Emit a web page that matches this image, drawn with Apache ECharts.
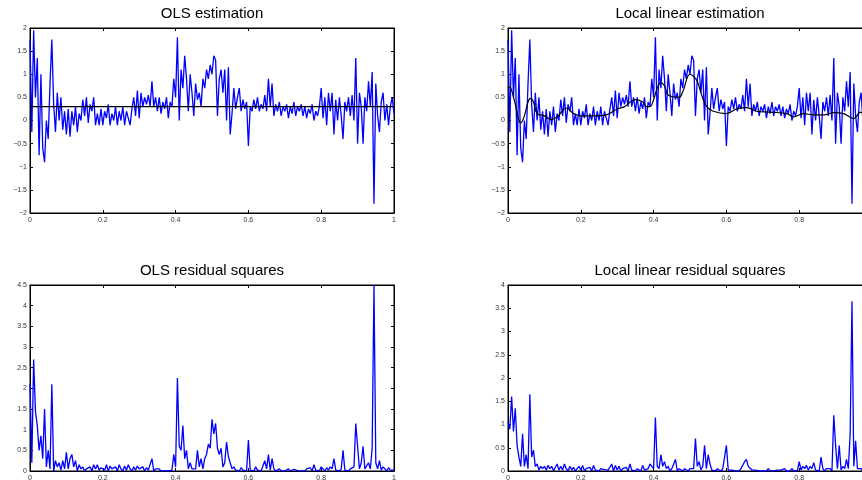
<!DOCTYPE html>
<html lang="en">
<head>
<meta charset="UTF-8">
<title>OLS vs local linear estimation</title>
<style>
  html, body { margin: 0; padding: 0; background: #fff; }
  #main { width: 862px; height: 480px; }
</style>
<script src="https://cdn.jsdelivr.net/npm/echarts@6/dist/echarts.min.js"></script>
</head>
<body>
<div id="main"></div>
<script>
// observed series, sampled every 0.005 on [0, 1]
var obs = [
  1.75, -0.25, 1.95, 0.5, 1.35, -0.75, 1.0, -0.6, -0.9, 0.0,
  -0.4, 0.8, 1.75, 0.35, -0.25, 0.6, 0.0, 0.5, -0.2, 0.2,
  -0.3, 0.25, -0.35, 0.2, -0.1, 0.3, -0.25, 0.15, 0.0, 0.45,
  0.1, 0.5, -0.05, 0.35, 0.2, 0.5, -0.1, 0.15, -0.1, 0.25,
  -0.1, 0.2, 0.05, 0.35, -0.1, 0.15, 0.0, 0.3, -0.1, 0.2,
  0.0, 0.3, -0.1, 0.2, 0.05, -0.1, 0.25, 0.5, 0.1, 0.65,
  0.05, 0.6, 0.3, 0.5, 0.35, 0.55, 0.3, 0.85, 0.3, 0.5,
  0.2, 0.5, 0.15, 0.4, 0.25, 0.5, 0.05, 0.4, 0.3, 0.9,
  0.5, 1.8, 0.0, 1.1, 0.7, 1.4, 0.9, 0.2, 1.0, 0.6,
  0.1, 0.8, 0.45, 0.6, 0.3, 0.9, 0.7, 1.1, 0.9, 1.2,
  1.0, 1.4, 1.3, 0.1, 0.9, 1.1, 0.6, 1.1, 0.0, 1.15,
  -0.3, 0.15, 0.7, 0.25, 0.5, 0.7, 0.2, 0.45, 0.25, 0.4,
  -0.55, 0.3, 0.2, 0.45, 0.25, 0.5, 0.2, 0.35, 0.25, 0.55,
  0.2, 0.9, 0.3, 0.8, 0.1, 0.35, 0.2, 0.4, 0.1, 0.3,
  0.2, 0.35, 0.05, 0.3, 0.15, 0.4, 0.1, 0.3, 0.2, 0.35,
  0.1, 0.3, 0.05, 0.25, 0.15, 0.35, 0.0, 0.2, 0.1, 0.3,
  0.7, 0.05, 0.5, -0.1, 0.6, 0.2, 0.6, -0.3, 0.45, 0.0,
  0.5, 0.1, -0.4, 0.4, 0.2, 0.5, 0.1, 0.55, 0.0, 1.35,
  -0.5, 0.6, 0.3, -0.5, 0.5, 0.2, 0.85, 0.3, 1.05, -1.8,
  0.8, 0.1, -0.25, 0.4, 0.6, 0.0, 0.35, -0.1, 0.3, 0.5,
  0.15
];

// OLS fit is a flat line
var olsLevel = 0.3;

// local linear fit (black curve)
var llX = [0, 0.005, 0.01, 0.02, 0.03, 0.035, 0.045, 0.055, 0.062, 0.07,
  0.08, 0.1, 0.12, 0.14, 0.16, 0.18, 0.2, 0.24, 0.27, 0.3,
  0.32, 0.35, 0.37, 0.38, 0.39, 0.4, 0.41, 0.42, 0.43, 0.44,
  0.47, 0.48, 0.5, 0.51, 0.52, 0.532, 0.546, 0.564, 0.6, 0.628,
  0.656, 0.683, 0.72, 0.766, 0.784, 0.812, 0.84, 0.867, 0.895, 0.922,
  0.95, 0.968, 0.985, 1];
var llFit = [0.7, 0.72, 0.65, 0.35, 0.0, -0.05, 0.1, 0.4, 0.48, 0.4,
  0.15, 0.1, 0.02, 0.12, 0.27, 0.15, 0.1, 0.1, 0.12, 0.25,
  0.3, 0.45, 0.4, 0.3, 0.3, 0.45, 0.7, 0.82, 0.75, 0.55,
  0.5, 0.62, 1.0, 0.95, 0.85, 0.55, 0.3, 0.2, 0.15, 0.25,
  0.28, 0.2, 0.18, 0.15, 0.08, 0.15, 0.12, 0.12, 0.17, 0.15,
  0.04, 0.18, 0.1, -0.05];

// residual squares, same 0.005 sampling
var olsRes2 = [
  2.1, 0.2, 2.7, 1.45, 1.1, 0.5, 0.85, 0.3, 1.5, 0.1,
  0.5, 0.05, 2.1, 0.0, 0.25, 0.1, 0.2, 0.02, 0.25, 0.05,
  0.45, 0.05, 0.3, 0.4, 0.1, 0.25, 0.0, 0.15, 0.05, 0.1,
  0.0, 0.05, 0.02, 0.1, 0.0, 0.15, 0.05, 0.15, 0.02, 0.08,
  0.1, 0.02, 0.15, 0.0, 0.12, 0.05, 0.02, 0.1, 0.0, 0.15,
  0.05, 0.0, 0.12, 0.02, 0.15, 0.05, 0.0, 0.1, 0.02, 0.12,
  0.05, 0.02, 0.1, 0.0, 0.08, 0.02, 0.05, 0.3, 0.0, 0.05,
  0.02, 0.05, 0.0, 0.03, 0.01, 0.05, 0.0, 0.03, 0.02, 0.4,
  0.1, 2.25, 0.6, 0.5, 1.1, 0.3, 0.5, 0.05, 0.2, 0.05,
  0.02, 0.05, 0.5, 0.1, 0.3, 0.05, 0.3, 0.4, 0.65, 0.55,
  1.25, 0.9, 1.15, 0.55, 0.4, 0.55, 0.1, 0.2, 0.7, 0.35,
  0.2, 0.05, 0.1, 0.02, 0.05, 0.0, 0.08, 0.02, 0.05, 0.0,
  0.75, 0.02, 0.05, 0.0, 0.1, 0.02, 0.05, 0.0, 0.02, 0.25,
  0.05, 0.4, 0.02, 0.3, 0.05, 0.0, 0.02, 0.05, 0.0, 0.02,
  0.0, 0.02, 0.05, 0.0, 0.02, 0.04, 0.0, 0.01, 0.05, 0.0,
  0.02, 0.0, 0.05, 0.01, 0.08, 0.0, 0.15, 0.02, 0.05, 0.0,
  0.1, 0.05, 0.0, 0.08, 0.02, 0.1, 0.05, 0.3, 0.02, 0.05,
  0.0, 0.05, 0.5, 0.02, 0.05, 0.0, 0.05, 0.02, 0.1, 1.15,
  0.6, 0.05, 0.2, 0.6, 0.05, 0.02, 0.2, 0.05, 0.55, 4.5,
  0.2, 0.05, 0.25, 0.02, 0.1, 0.05, 0.0, 0.08, 0.02, 0.05,
  0.02
];
var llRes2 = [
  1.05, 0.9, 1.6, 0.85, 1.35, 0.55, 0.3, 0.1, 0.8, 0.1,
  0.35, 0.05, 1.65, 0.3, 0.45, 0.1, 0.15, 0.02, 0.1, 0.05,
  0.1, 0.02, 0.12, 0.05, 0.1, 0.0, 0.08, 0.15, 0.02, 0.1,
  0.02, 0.15, 0.05, 0.0, 0.1, 0.02, 0.08, 0.0, 0.05, 0.1,
  0.02, 0.12, 0.0, 0.05, 0.02, 0.08, 0.0, 0.12, 0.02, 0.05,
  0.0, 0.05, 0.02, 0.03, 0.0, 0.02, 0.05, 0.15, 0.0, 0.12,
  0.02, 0.1, 0.0, 0.05, 0.02, 0.08, 0.0, 0.15, 0.02, 0.05,
  0.0, 0.05, 0.02, 0.0, 0.12, 0.02, 0.0, 0.05, 0.15, 0.1,
  0.05, 1.15, 0.1, 0.05, 0.35, 0.1, 0.2, 0.05, 0.1, 0.0,
  0.05, 0.02, 0.25, 0.0, 0.05, 0.02, 0.0, 0.05, 0.02, 0.0,
  0.05, 0.02, 0.05, 0.7, 0.1, 0.2, 0.02, 0.1, 0.55, 0.05,
  0.35, 0.15, 0.02, 0.05, 0.0, 0.05, 0.02, 0.0, 0.05, 0.02,
  0.55, 0.02, 0.0, 0.02, 0.01, 0.0, 0.02, 0.0, 0.05, 0.02,
  0.2, 0.25, 0.1, 0.1, 0.02, 0.0, 0.02, 0.05, 0.0, 0.02,
  0.0, 0.02, 0.0, 0.05, 0.0, 0.02, 0.0, 0.01, 0.02, 0.0,
  0.02, 0.0, 0.05, 0.0, 0.02, 0.0, 0.05, 0.0, 0.02, 0.01,
  0.2, 0.02, 0.1, 0.05, 0.12, 0.02, 0.1, 0.05, 0.18, 0.02,
  0.05, 0.0, 0.3, 0.05, 0.0, 0.05, 0.02, 0.05, 0.0, 1.2,
  0.55, 0.05, 0.55, 0.02, 0.1, 0.05, 0.25, 0.05, 0.8, 3.65,
  0.1, 0.65, 0.05, 0.02, 0.05, 0.0, 0.1, 0.02, 0.05, 0.0,
  0.02
];

var titles = ['OLS estimation', 'Local linear estimation', 'OLS residual squares', 'Local linear residual squares'];
var yRanges = [[-2, 2], [-2, 2], [0, 4.5], [0, 4]];

var step = 0.005;
function onGrid(ys) {
  return ys.map(function (v, i) { return [+(i * step).toFixed(3), v]; });
}

// plot boxes (right column runs past the window edge like the original)
var boxes = [
  { left: 30, right: 468, top: 28, bottom: 267, cx: 212, ty: 6 },
  { left: 508, right: -10, top: 28, bottom: 267, cx: 690, ty: 6 },
  { left: 30, right: 468, top: 285, bottom: 9, cx: 212, ty: 263 },
  { left: 508, right: -10, top: 285, bottom: 9, cx: 690, ty: 263 }
];

var fontFam = '"Liberation Sans", Arial, Helvetica, sans-serif';
var minus = function (v) { return String(v).replace('-', '\u2212'); };

var grids = [], xAxes = [], yAxes = [], titleList = [];
boxes.forEach(function (b, g) {
  grids.push({ left: b.left, right: b.right, top: b.top, bottom: b.bottom,
    outerBoundsMode: 'none', containLabel: false,
    show: true, borderColor: '#000', borderWidth: 1, backgroundColor: 'transparent' });
  titleList.push({ text: titles[g], left: b.cx, top: b.ty, textAlign: 'center', padding: 0,
    textStyle: { fontSize: 15, fontWeight: 'normal', color: '#000', fontFamily: fontFam } });
  ['bottom', 'top'].forEach(function (pos) {
    xAxes.push({
      type: 'value', gridIndex: g, position: pos, min: 0, max: 1, interval: 0.2,
      axisLine: { show: true, onZero: false, lineStyle: { color: '#000', width: 1 } },
      axisTick: { show: true, inside: true, length: 3, lineStyle: { color: '#000' } },
      axisLabel: { show: pos === 'bottom', fontSize: 7, color: '#333', margin: 4,
        fontFamily: fontFam, formatter: minus },
      splitLine: { show: false }
    });
  });
  ['left', 'right'].forEach(function (pos) {
    yAxes.push({
      type: 'value', gridIndex: g, position: pos, min: yRanges[g][0], max: yRanges[g][1], interval: 0.5,
      axisLine: { show: true, onZero: false, lineStyle: { color: '#000', width: 1 } },
      axisTick: { show: true, inside: true, length: 3, lineStyle: { color: '#000' } },
      axisLabel: { show: pos === 'left', fontSize: 7, color: '#333', margin: 3,
        fontFamily: fontFam, formatter: minus },
      splitLine: { show: false }
    });
  });
});

function line(g, data, color, width, extra) {
  var s = {
    type: 'line', xAxisIndex: g * 2, yAxisIndex: g * 2, data: data,
    showSymbol: false, symbol: 'none', silent: true,
    lineStyle: { color: color, width: width }, z: color === '#000' ? 5 : 3
  };
  return Object.assign(s, extra || {});
}

var myChart = echarts.init(document.getElementById('main'), null, { renderer: 'canvas' });
myChart.setOption({
  animation: false,
  backgroundColor: '#fff',
  title: titleList,
  grid: grids,
  xAxis: xAxes,
  yAxis: yAxes,
  series: [
    line(0, onGrid(obs), '#0000ff', 1.3),
    line(0, [[0, olsLevel], [1, olsLevel]], '#000', 1.2),
    line(1, onGrid(obs), '#0000ff', 1.3),
    line(1, llX.map(function (x, i) { return [x, llFit[i]]; }), '#000', 1.2, { smooth: 0.4 }),
    line(2, onGrid(olsRes2), '#0000ff', 1.3),
    line(3, onGrid(llRes2), '#0000ff', 1.3)
  ]
});
</script>
</body>
</html>
